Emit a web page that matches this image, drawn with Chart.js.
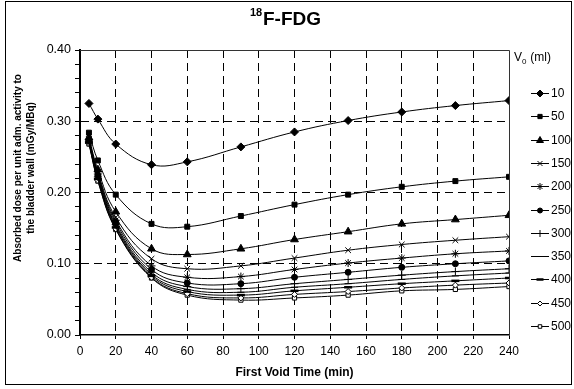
<!DOCTYPE html>
<html>
<head>
<meta charset="utf-8">
<script src="https://cdn.jsdelivr.net/npm/chart.js@4.4.1/dist/chart.umd.min.js"></script>
<style>
  body { margin: 0; background: #fff; }
</style>
</head>
<body>
<canvas id="chart_fdg" width="574" height="389"></canvas>
<script>

// first void time (min)
const voidTimes = [5, 10, 20, 40, 60, 90, 120, 150, 180, 210, 240];

// absorbed dose to bladder wall (mGy/MBq) per initial volume V0
const dose_10  = [0.325, 0.303, 0.268, 0.239, 0.243, 0.264, 0.285, 0.301, 0.313, 0.322, 0.329];
const dose_50  = [0.284, 0.245, 0.197, 0.156, 0.152, 0.167, 0.183, 0.197, 0.208, 0.216, 0.222];
const dose_100 = [0.277, 0.232, 0.173, 0.121, 0.113, 0.121, 0.134, 0.145, 0.156, 0.162, 0.168];
const dose_150 = [0.275, 0.228, 0.165, 0.107, 0.093, 0.097, 0.108, 0.119, 0.127, 0.133, 0.138];
const dose_200 = [0.274, 0.226, 0.161, 0.097, 0.081, 0.082, 0.092, 0.101, 0.108, 0.114, 0.118];
const dose_250 = [0.273, 0.224, 0.158, 0.092, 0.073, 0.072, 0.081, 0.088, 0.095, 0.100, 0.104];
const dose_300 = [0.272, 0.222, 0.155, 0.088, 0.068, 0.065, 0.072, 0.078, 0.084, 0.089, 0.093];
const dose_350 = [0.271, 0.220, 0.153, 0.085, 0.064, 0.060, 0.067, 0.072, 0.078, 0.083, 0.087];
const dose_400 = [0.270, 0.219, 0.151, 0.083, 0.061, 0.056, 0.062, 0.067, 0.072, 0.076, 0.080];
const dose_450 = [0.269, 0.217, 0.149, 0.081, 0.058, 0.052, 0.057, 0.061, 0.066, 0.070, 0.073];
const dose_500 = [0.268, 0.216, 0.148, 0.080, 0.056, 0.049, 0.052, 0.056, 0.062, 0.064, 0.068];

const volumes = ['10', '50', '100', '150', '200', '250', '300', '350', '400', '450', '500'];
const doseSeries = [dose_10, dose_50, dose_100, dose_150, dose_200, dose_250,
                    dose_300, dose_350, dose_400, dose_450, dose_500];

// marker per series: [pointStyle, radius, borderWidth, fill]
const markers = [
    ['rectRot', 4, 1, '#000'],
    ['rect', 3.5, 1, '#000'],
    ['triangle', 4.5, 1, '#000'],
    ['crossRot', 4, 1, '#000'],
    ['star', 4, 1, '#000'],
    ['circle', 3, 1, '#000'],
    ['cross', 4, 1, '#000'],
    ['line', 3.5, 1, '#000'],
    ['line', 4, 2.5, '#000'],
    ['rectRot', 3, 1, '#fff'],
    ['rect', 3, 1, '#fff']
];

const FONT = "'Liberation Sans', Arial, Helvetica, sans-serif";
Chart.defaults.font.family = FONT;
Chart.defaults.color = '#000';

const datasets = doseSeries.map((vals, i) => ({
    label: volumes[i],
    data: vals.map((v, j) => ({ x: voidTimes[j], y: v })),
    borderColor: '#000',
    borderWidth: 1,
    backgroundColor: markers[i][3],
    pointStyle: markers[i][0],
    pointRadius: markers[i][1],
    pointBorderWidth: markers[i][2],
    pointBorderColor: '#000',
    pointBackgroundColor: markers[i][3],
    tension: 0.4,
    fill: false
}));

// white page, frame around the whole figure, plot box, titles and legend
const decorations = {
    id: 'decorations',
    beforeDraw(chart) {
        const ctx = chart.ctx;
        ctx.save();
        ctx.fillStyle = '#fff';
        ctx.fillRect(0, 0, chart.width, chart.height);
        ctx.restore();
    },
    afterDraw(chart) {
        const ctx = chart.ctx;
        const a = chart.chartArea;
        ctx.save();

        // plot box top / right
        ctx.strokeStyle = '#333';
        ctx.lineWidth = 1;
        ctx.beginPath();
        ctx.moveTo(a.left, a.top + 0.5);
        ctx.lineTo(a.right + 0.5, a.top + 0.5);
        ctx.lineTo(a.right + 0.5, a.bottom);
        ctx.stroke();

        // outer frame
        ctx.strokeStyle = '#000';
        ctx.strokeRect(5.5, 1.5, 566, 383);

        // chart title with superscript mass number
        ctx.fillStyle = '#000';
        ctx.textBaseline = 'alphabetic';
        ctx.textAlign = 'left';
        ctx.font = 'bold 11px ' + FONT;
        ctx.fillText('18', 250, 16);
        ctx.font = 'bold 19px ' + FONT;
        ctx.fillText('F-FDG', 263, 25);

        // y axis title, two rotated lines
        ctx.save();
        ctx.font = 'bold 10px ' + FONT;
        ctx.textAlign = 'center';
        ctx.textBaseline = 'middle';
        ctx.translate(18, 168);
        ctx.rotate(-Math.PI / 2);
        ctx.fillText('Absorbed dose per unit adm. activity to', 0, 0);
        ctx.fillText('the bladder wall (mGy/MBq)', 0, 13);
        ctx.restore();

        // legend title V0 (ml)
        ctx.font = '12px ' + FONT;
        ctx.textBaseline = 'alphabetic';
        ctx.fillText('V', 514, 61);
        ctx.font = '8px ' + FONT;
        ctx.fillText('0', 522, 64);
        ctx.font = '12px ' + FONT;
        ctx.fillText(' (ml)', 527, 61);

        // legend entries: line through marker, then volume
        ctx.textBaseline = 'middle';
        chart.data.datasets.forEach((ds, i) => {
            const y = Math.round(93 + i * 23.3) + 0.5;
            ctx.strokeStyle = '#000';
            ctx.lineWidth = 1;
            ctx.beginPath();
            ctx.moveTo(531, y);
            ctx.lineTo(549, y);
            ctx.stroke();
            ctx.fillStyle = ds.pointBackgroundColor;
            ctx.lineWidth = ds.pointBorderWidth;
            Chart.helpers.drawPoint(ctx, {
                pointStyle: ds.pointStyle,
                radius: Math.max(2.5, ds.pointRadius - 0.5),
                borderWidth: ds.pointBorderWidth,
                rotation: 0
            }, 540, y);
            ctx.fillStyle = '#000';
            ctx.font = '12px ' + FONT;
            ctx.fillText(ds.label, 551, y);
        });
        ctx.restore();
    }
};

const isMajorY = v => Math.round(v * 100) % 10 === 0;

const config_fdg = {
    type: 'line',
    data: { datasets: datasets },
    options: {
        responsive: false,
        animation: false,
        devicePixelRatio: 1,
        layout: { padding: { left: 0, right: 65, top: 50, bottom: 0 } },
        plugins: {
            legend: { display: false },
            title: { display: false },
            tooltip: { enabled: false }
        },
        scales: {
            x: {
                type: 'linear',
                min: 0,
                max: 240,
                afterFit: s => { s.height = 54; },
                ticks: {
                    stepSize: 20,
                    font: { size: 12 },
                    padding: 5,
                    maxRotation: 0,
                    autoSkip: false
                },
                grid: {
                    color: c => (c.tick && (c.tick.value === 0 || c.tick.value === 240)) ? 'rgba(0,0,0,0)' : '#000',
                    lineWidth: 1,
                    tickLength: 4,
                    tickColor: '#000'
                },
                border: { display: true, color: '#000', width: 1.5, dash: [8, 5] },
                title: {
                    display: true,
                    text: 'First Void Time (min)',
                    font: { size: 12, weight: 'bold' },
                    padding: { top: 0, bottom: 9 }
                }
            },
            y: {
                min: 0,
                max: 0.4,
                afterFit: s => { s.width = 80; },
                ticks: {
                    stepSize: 0.02,
                    autoSkip: false,
                    font: { size: 12.5 },
                    padding: 4,
                    callback: v => isMajorY(v) ? v.toFixed(2) : ''
                },
                grid: {
                    color: c => {
                        if (!c.tick) return 'rgba(0,0,0,0)';
                        const v = c.tick.value;
                        return (isMajorY(v) && v > 0.001 && v < 0.399) ? '#000' : 'rgba(0,0,0,0)';
                    },
                    lineWidth: 1,
                    tickLength: 5,
                    tickColor: '#000'
                },
                border: { display: true, color: '#000', width: 2, dash: [8, 5] },
                title: { display: false }
            }
        }
    },
    plugins: [decorations]
};

const ctx_fdg = document.getElementById('chart_fdg').getContext('2d');
const myChart_fdg = new Chart(ctx_fdg, config_fdg);
</script>
</body>
</html>
